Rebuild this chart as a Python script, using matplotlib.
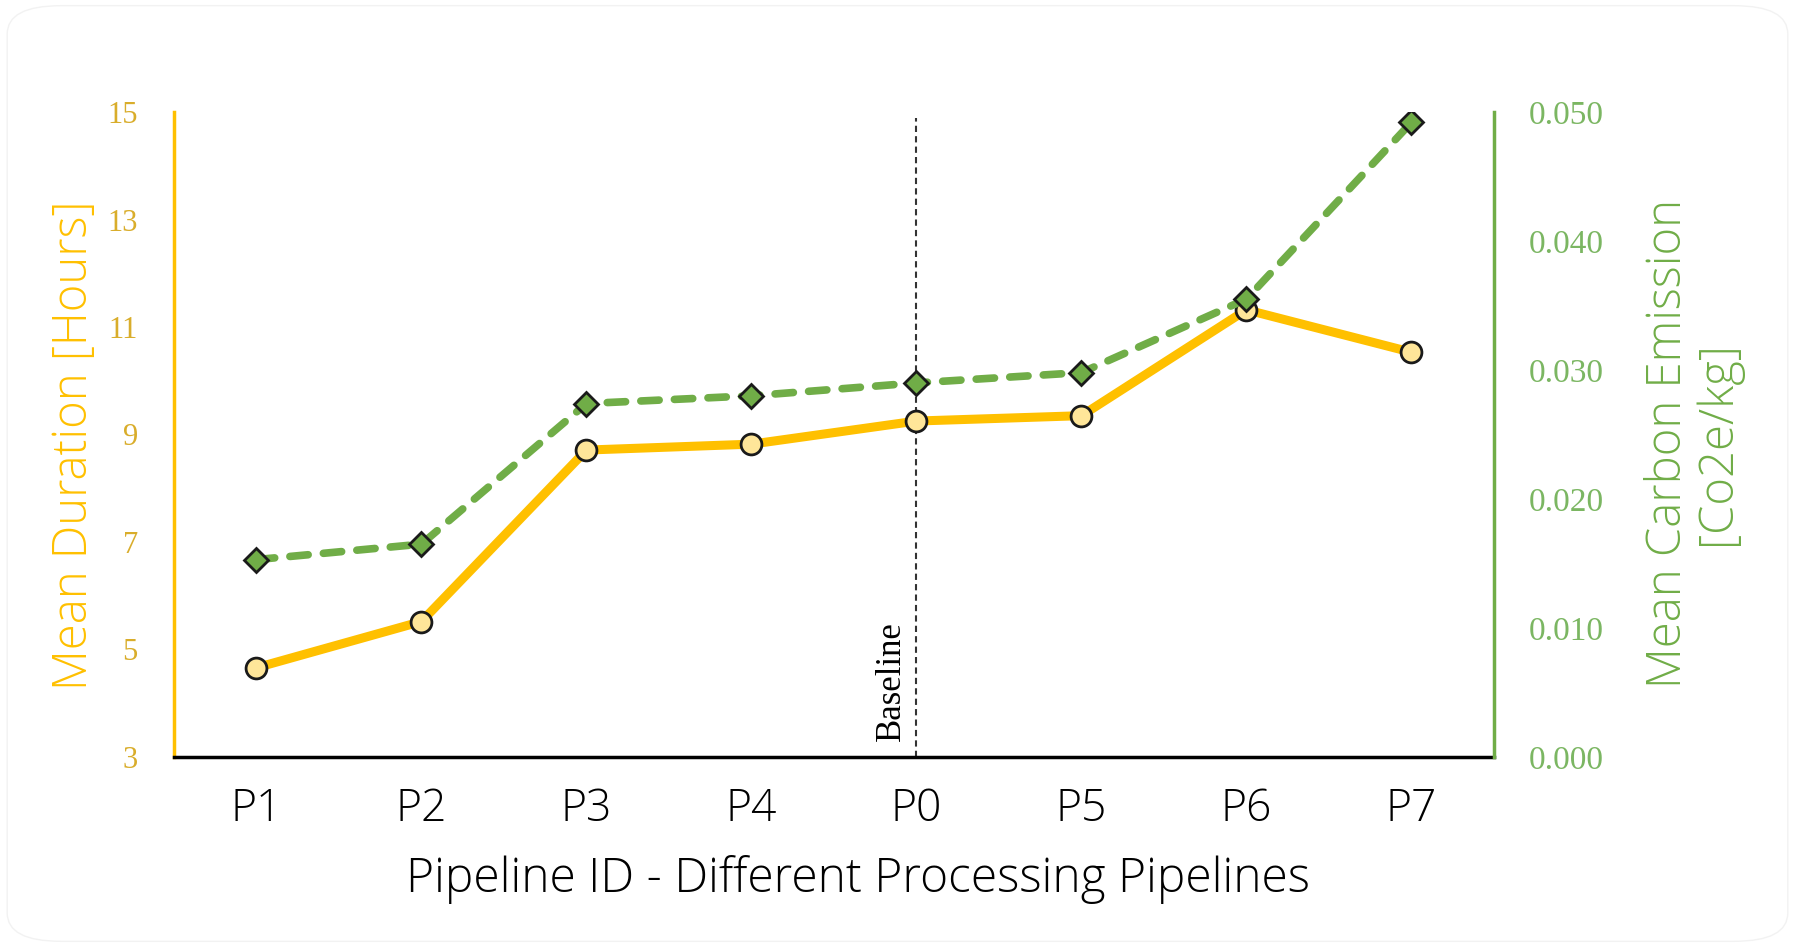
import matplotlib
matplotlib.use("Agg")
import matplotlib.pyplot as plt
from matplotlib.patches import FancyBboxPatch

pipelines = ["P1", "P2", "P3", "P4", "P0", "P5", "P6", "P7"]
duration_hours = [4.66, 5.52, 8.71, 8.82, 9.25, 9.35, 11.32, 10.53]
carbon_kg = [0.0153, 0.0165, 0.0274, 0.0280, 0.0290, 0.0298, 0.0355, 0.0492]
left_ticks = [3, 5, 7, 9, 11, 13, 15]
right_ticks = [0.0, 0.01, 0.02, 0.03, 0.04, 0.05]
baseline_id = "P0"

ORANGE = "#FFC000"
GREEN = "#70AD47"
SANS = ["Open Sans", "DejaVu Sans"]
SERIF = ["Liberation Serif", "DejaVu Serif"]

fig = plt.figure(figsize=(17.95, 9.47), dpi=100)
fig.patch.set_facecolor("white")
fig.patches.append(FancyBboxPatch((0.004, 0.006), 0.992, 0.988, boxstyle="round,pad=0,rounding_size=0.03",
                                  transform=fig.transFigure, facecolor="none", edgecolor="#f2f2f2", lw=1))

ax = fig.add_axes([0.0969, 0.2007, 0.7354, 0.681])
x = list(range(len(pipelines)))

ax.plot(x, duration_hours, color=ORANGE, lw=6.5, marker="o", ms=15, mfc="#FFE699",
        mec="#1a1a1a", mew=2, solid_capstyle="round", zorder=3)
ax.set_xlim(-0.5, len(pipelines) - 0.5)
ax.set_ylim(left_ticks[0], left_ticks[-1])
ax.set_yticks(left_ticks)
ax.set_xticks(x)
ax.set_xticklabels(pipelines, fontfamily=SANS, fontsize=32, fontweight="light", color="black")
ax.tick_params(axis="x", length=0, pad=22)
ax.tick_params(axis="y", length=0, pad=26, labelsize=22, labelcolor="#D9AD2B")
for lab in ax.get_yticklabels():
    lab.set_fontfamily(SERIF)

for s in ["top", "right"]:
    ax.spines[s].set_visible(False)
ax.spines["left"].set_color(ORANGE)
ax.spines["left"].set_linewidth(2.5)
ax.spines["bottom"].set_color("black")
ax.spines["bottom"].set_linewidth(2.5)
ax.spines["bottom"].set_zorder(5)

bx = pipelines.index(baseline_id)
ax.axvline(bx, ymin=0, ymax=0.99, color="#333333", lw=1.5, ls=(0, (3, 2)), zorder=2)
ax.text(bx - 0.05, 3.3, "Baseline", rotation=90, ha="right", va="bottom",
        fontfamily=SERIF, fontsize=25, color="black")

ax.set_xlabel("Pipeline ID - Different Processing Pipelines", fontfamily=SANS,
              fontsize=34.5, color="black", fontweight="light", va="center")
ax.xaxis.set_label_coords(0.518, -0.19)
ax.set_ylabel("Mean Duration [Hours]", fontfamily=SANS, fontsize=34, color=ORANGE,
              fontweight="light", va="center")
ax.yaxis.set_label_coords(-0.075, 0.484)

ax2 = ax.twinx()
ax2.plot(x, carbon_kg, color=GREEN, lw=5.5, dashes=(2.4, 2.0), dash_capstyle="round",
         marker="D", ms=12, mfc=GREEN, mec="#1a1a1a", mew=2, zorder=4)
ax2.set_ylim(right_ticks[0], right_ticks[-1])
ax2.set_yticks(right_ticks)
ax2.set_yticklabels([f"{v:.3f}" for v in right_ticks], fontfamily=SERIF)
ax2.tick_params(axis="y", length=0, pad=25, labelsize=24, labelcolor="#7BB662")
for s in ["top", "left", "bottom"]:
    ax2.spines[s].set_visible(False)
ax2.spines["right"].set_color(GREEN)
ax2.spines["right"].set_linewidth(2.5)
ax2.set_ylabel("Mean Carbon Emission\n[Co2e/kg]", fontfamily=SANS, fontsize=34,
               color=GREEN, fontweight="light", va="center", linespacing=1.0)
ax2.yaxis.set_label_coords(1.151, 0.486)

fig.savefig("out.png", dpi=100, facecolor="white")
